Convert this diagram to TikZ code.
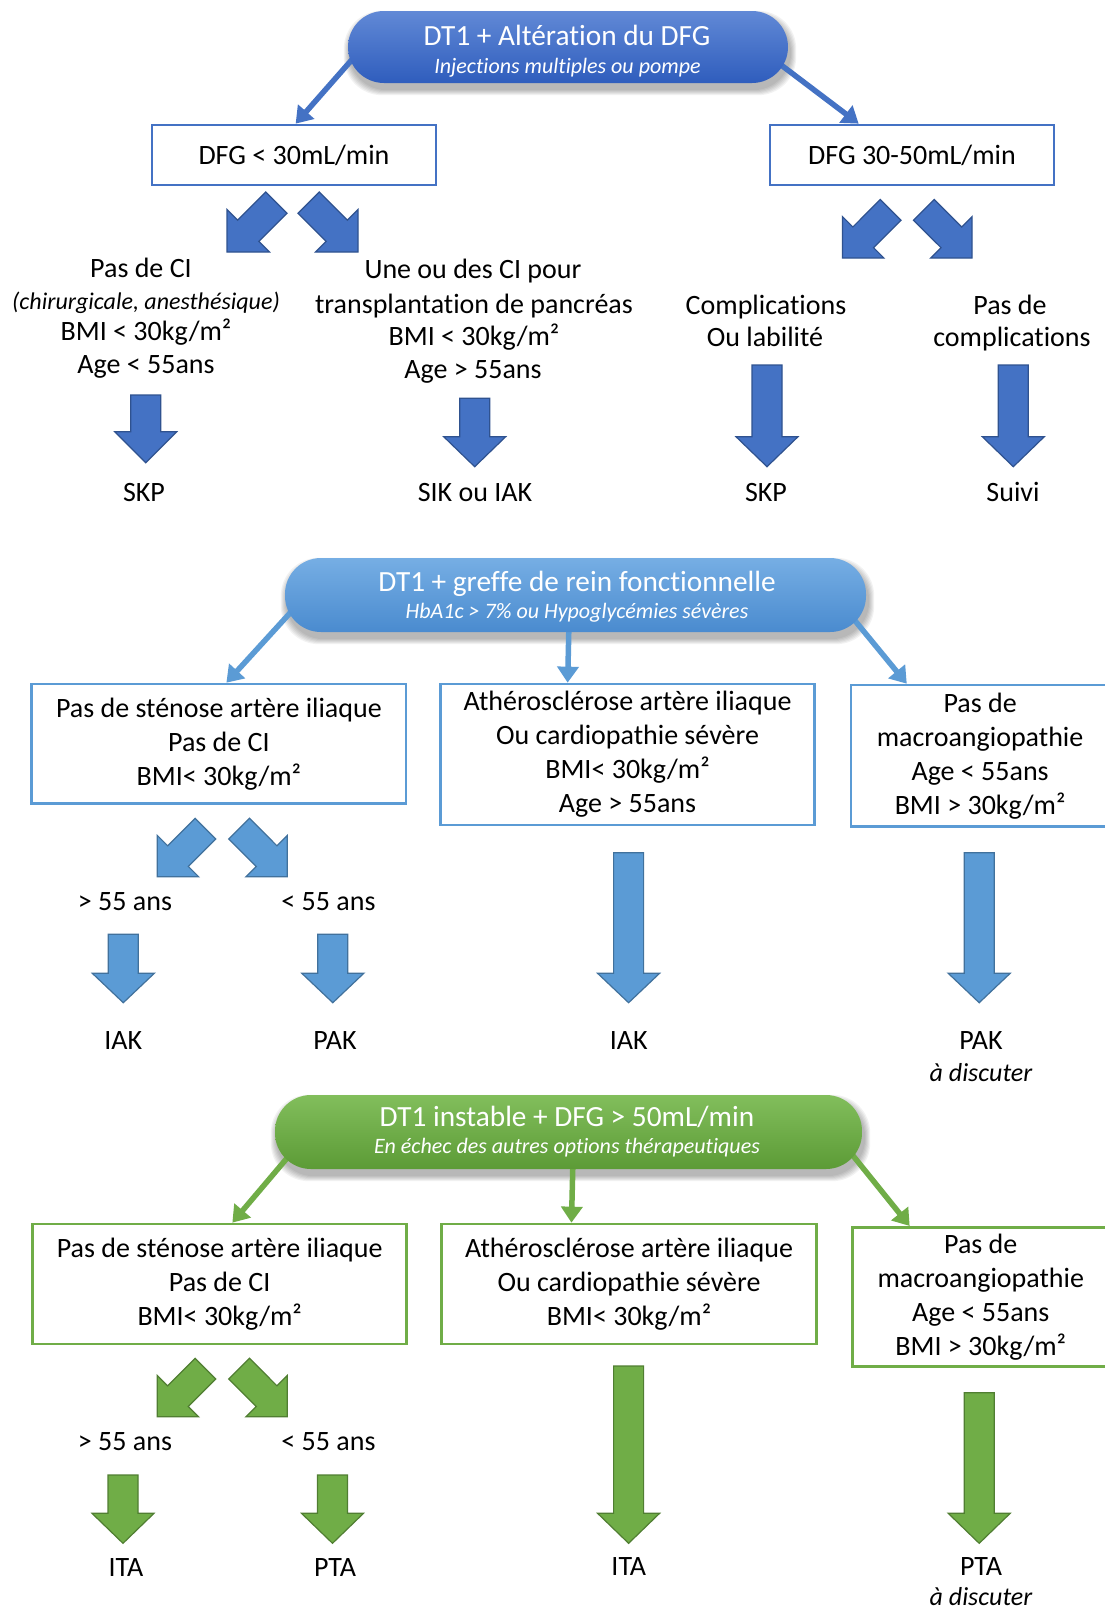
\documentclass[tikz,border=0pt]{standalone}
\usepackage{fontspec}
\setmainfont{Carlito}[Ligatures={NoCommon}]
\usetikzlibrary{arrows.meta,calc}
\pgfdeclarelayer{bg}
\pgfsetlayers{bg,main}
\definecolor{cA}{HTML}{4472C4}
\definecolor{cAd}{HTML}{2F528F}
\definecolor{cB}{HTML}{5B9BD5}
\definecolor{cBd}{HTML}{41719C}
\definecolor{cC}{HTML}{70AD47}
\definecolor{cCd}{HTML}{507E32}
\definecolor{pAt}{HTML}{6189D6}
\definecolor{pAb}{HTML}{2F5DBD}
\definecolor{pBt}{HTML}{76AEE4}
\definecolor{pBb}{HTML}{4A8BCF}
\definecolor{pCt}{HTML}{82BE5C}
\definecolor{pCb}{HTML}{5C9B36}
\tikzset{
  lbl/.style={font=\fontsize{28}{33}\selectfont, inner sep=0pt, anchor=base, text=black},
  ilbl/.style={font=\fontsize{24}{28}\selectfont\itshape, inner sep=0pt, anchor=base, text=black},
  dlbl/.style={font=\fontsize{26}{30}\selectfont\itshape, inner sep=0pt, anchor=base, text=black},
  ttl/.style={font=\fontsize{29.3}{33}\selectfont, text=white, inner sep=0pt, anchor=base},
  subt/.style={font=\fontsize{22}{25}\selectfont\itshape, text=white, inner sep=0pt, anchor=base},
  pillbase/.style={rounded corners=36pt, draw=none, inner sep=0pt},
  pillA/.style={pillbase, top color=pAt, bottom color=pAb},
  pillB/.style={pillbase, top color=pBt, bottom color=pBb},
  pillC/.style={pillbase, top color=pCt, bottom color=pCb},
  boxbase/.style={line width=2.7pt, fill=white, inner sep=0pt, align=center, font=\fontsize{28}{34}\selectfont, text=black},
  boxA/.style={boxbase, draw=cA},
  boxB/.style={boxbase, draw=cB},
  boxC/.style={boxbase, draw=cC},
  conA/.style={draw=cA, line width=5.5pt, -{Triangle[length=16pt,width=21pt]}},
  conB/.style={draw=cB, line width=5.5pt, -{Triangle[length=16pt,width=21pt]}},
  conC/.style={draw=cC, line width=5.5pt, -{Triangle[length=16pt,width=21pt]}},
  blkA/.style={fill=cA, draw=cAd, line width=1.2pt},
  blkB/.style={fill=cB, draw=cBd, line width=1.2pt},
  blkC/.style={fill=cC, draw=cCd, line width=1.2pt},
  shd/.style={fill=black, opacity=0.05, rounded corners=38pt},
}
% straight down block arrow: cx, top, head base, tip, style
\newcommand{\dnarrow}[5]{%
  \filldraw[#5] ({#1-15},#2) -- ({#1+15},#2) -- ({#1+15},#3) -- ({#1+31},#3) -- (#1,#4) -- ({#1-31},#3) -- ({#1-15},#3) -- cycle;}
% diagonal block arrows: x0, y0 (top-left of box), size, style
\newcommand{\dlarrow}[4]{%
  \begin{scope}[shift={(#1,#2)}, scale=#3]
    \filldraw[#4] (0,1) -- (0,0.293) -- (0.177,0.470) -- (0.646,0) -- (1,0.354) -- (0.530,0.823) -- (0.707,1) -- cycle;
  \end{scope}}
\newcommand{\drarrow}[4]{%
  \begin{scope}[shift={({#1+#3},#2)}, xscale=-#3, yscale=#3]
    \filldraw[#4] (0,1) -- (0,0.293) -- (0.177,0.470) -- (0.646,0) -- (1,0.354) -- (0.530,0.823) -- (0.707,1) -- cycle;
  \end{scope}}
\newcommand{\pillshadow}[1]{%
  \foreach \k in {0,...,5}{%
    \fill[shd] ($(#1.south west)+({1-\k},{7+\k})$) rectangle ($(#1.north east)+({3+\k},{5-\k})$);}}

\begin{document}
\begin{tikzpicture}[x=1pt,y=-1pt]
\useasboundingbox (0,0) rectangle (1105,1609);
\clip (0,0) rectangle (1105,1609);

% ---------------- Section 1 ----------------
\node[pillA, minimum width=440pt, minimum height=72pt] (p1) at (568,47) {};
\node[ttl] (p1t) at (567,45) {DT1 + Altération du DFG};
\node[subt] (p1s) at (567.5,73.3) {Injections multiples ou pompe};

\node[boxA, minimum width=284pt, minimum height=60pt] (tA) at (294,155) {DFG < 30mL/min};
\node[boxA, minimum width=284pt, minimum height=60pt] (tB) at (912,155) {DFG 30-50mL/min};

\dlarrow{227}{192}{60}{blkA}
\drarrow{298}{192}{60}{blkA}
\dlarrow{842.5}{199.5}{58.5}{blkA}
\drarrow{913.5}{199.5}{58.5}{blkA}

\node[lbl] (l1a) at (141,277) {Pas de CI};
\node[ilbl] (l1b) at (146,309) {(chirurgicale, anesthésique)};
\node[lbl] (l1c) at (146,340) {BMI < 30kg/m²};
\node[lbl] (l1d) at (146,373) {Age < 55ans};
\node[lbl] (l2a) at (473,278) {Une ou des CI pour};
\node[lbl] (l2b) at (474,313) {transplantation de pancréas};
\node[lbl] (l2c) at (474,345) {BMI < 30kg/m²};
\node[lbl] (l2d) at (473,378) {Age > 55ans};
\node[lbl] (l3a) at (766,314) {Complications};
\node[lbl] (l3b) at (765,346) {Ou labilité};
\node[lbl] (l4a) at (1010,314) {Pas de};
\node[lbl] (l4b) at (1012,346) {complications};

\dnarrow{145.7}{395}{431.7}{462.7}{blkA}
\dnarrow{474.7}{398.3}{436.7}{466.7}{blkA}
\dnarrow{767}{365}{436.7}{466.7}{blkA}
\dnarrow{1013.3}{365}{436.7}{466.7}{blkA}

\node[lbl] (r1) at (144,501.5) {SKP};
\node[lbl] (r2) at (475,501.5) {SIK ou IAK};
\node[lbl] (r3) at (766,501.5) {SKP};
\node[lbl] (r4) at (1013,501.5) {Suivi};

% ---------------- Section 2 ----------------
\node[pillB, minimum width=581pt, minimum height=74pt] (p2) at (575.5,595) {};
\node[ttl] (p2t) at (577,591.7) {DT1 + greffe de rein fonctionnelle};
\node[subt] (p2s) at (577,618.3) {HbA1c > 7\% ou Hypoglycémies sévères};

\node[boxB, minimum width=374.3pt, minimum height=119.3pt] (mL) at (218.9,743.7) {Pas de sténose artère iliaque\\Pas de CI\\BMI< 30kg/m²};
\node[boxB, minimum width=374pt, minimum height=141pt] (mM) at (627.5,754.5) {Athérosclérose artère iliaque\\Ou cardiopathie sévère\\BMI< 30kg/m²\\Age > 55ans};
\node[boxB, minimum width=258pt, minimum height=141.7pt] (mR) at (980.1,755.9) {Pas de\\macroangiopathie\\Age < 55ans\\BMI > 30kg/m²};

\dlarrow{157.3}{818.3}{58.5}{blkB}
\drarrow{228.8}{818.3}{58.5}{blkB}

\node[lbl] (m1) at (125,910) {> 55 ans};
\node[lbl] (m2) at (328.5,910) {< 55 ans};

\dnarrow{123.3}{934.3}{973.3}{1002.7}{blkB}
\dnarrow{332.8}{934.3}{973.3}{1002.7}{blkB}
\dnarrow{628.6}{852.7}{973.3}{1002.7}{blkB}
\dnarrow{979.2}{852.7}{973.3}{1002.7}{blkB}

\node[lbl] (m3) at (123.3,1049) {IAK};
\node[lbl] (m4) at (335,1049) {PAK};
\node[lbl] (m5) at (628.8,1049) {IAK};
\node[lbl] (m6) at (981,1049) {PAK};
\node[dlbl] (m7) at (981,1081) {à discuter};

% ---------------- Section 3 ----------------
\node[pillC, minimum width=587pt, minimum height=74pt] (p3) at (568.5,1132) {};
\node[ttl] (p3t) at (567,1126.7) {DT1 instable + DFG > 50mL/min};
\node[subt] (p3s) at (567,1153.3) {En échec des autres options thérapeutiques};

\node[boxC, minimum width=374pt, minimum height=120pt] (gL) at (219.7,1284) {Pas de sténose artère iliaque\\Pas de CI\\BMI< 30kg/m²};
\node[boxC, minimum width=374.4pt, minimum height=120pt] (gM) at (629,1284) {Athérosclérose artère iliaque\\Ou cardiopathie sévère\\BMI< 30kg/m²};
\node[boxC, minimum width=256.5pt, minimum height=139.4pt] (gR) at (980.75,1297) {Pas de\\macroangiopathie\\Age < 55ans\\BMI > 30kg/m²};

\dlarrow{157.3}{1358.3}{58.5}{blkC}
\drarrow{228.8}{1358.3}{58.5}{blkC}

\node[lbl] (n1) at (125,1450) {> 55 ans};
\node[lbl] (n2) at (328.5,1450) {< 55 ans};

\dnarrow{123}{1475}{1513.3}{1543.3}{blkC}
\dnarrow{332.5}{1475}{1513.3}{1543.3}{blkC}
\dnarrow{628.6}{1366}{1513.3}{1543.3}{blkC}
\dnarrow{979.2}{1392.7}{1513.3}{1543.3}{blkC}

\node[lbl] (n3) at (126,1576) {ITA};
\node[lbl] (n4) at (335,1576) {PTA};
\node[lbl] (n5) at (628.8,1575) {ITA};
\node[lbl] (n6) at (981,1575) {PTA};
\node[dlbl] (n7) at (981,1605) {à discuter};

% ---------------- background: shadows and connectors ----------------
\begin{pgfonlayer}{bg}
  \fill[white] (0,0) rectangle (1105,1609);
  \pillshadow{p1}
  \pillshadow{p2}
  \pillshadow{p3}
  \draw[conA] ($(p1.west)+(17,-2)$) -- ($(tA.north west)+(145,0)$);
  \draw[conA] ($(p1.east)+(-19,9)$) -- ($(tB.north west)+(90,0)$);
  \draw[conB] ($(p2.west)+(18,4)$) -- ($(mL.north west)+(196,0)$);
  \draw[conB] ($(p2.south)+(-6.5,-10)$) -- ($(mM.north west)+(128.5,0)$);
  \draw[conB] ($(p2.east)+(-22,12.5)$) -- ($(mR.north west)+(57,0)$);
  \draw[conC] ($(p3.west)+(24.6,11.5)$) -- ($(gL.north west)+(201,0)$);
  \draw[conC] ($(p3.south)+(4.5,-10)$) -- ($(gM.north west)+(131,0)$);
  \draw[conC] ($(p3.east)+(-23,6.5)$) -- ($(gR.north west)+(58.5,0)$);
\end{pgfonlayer}
\end{tikzpicture}
\end{document}
